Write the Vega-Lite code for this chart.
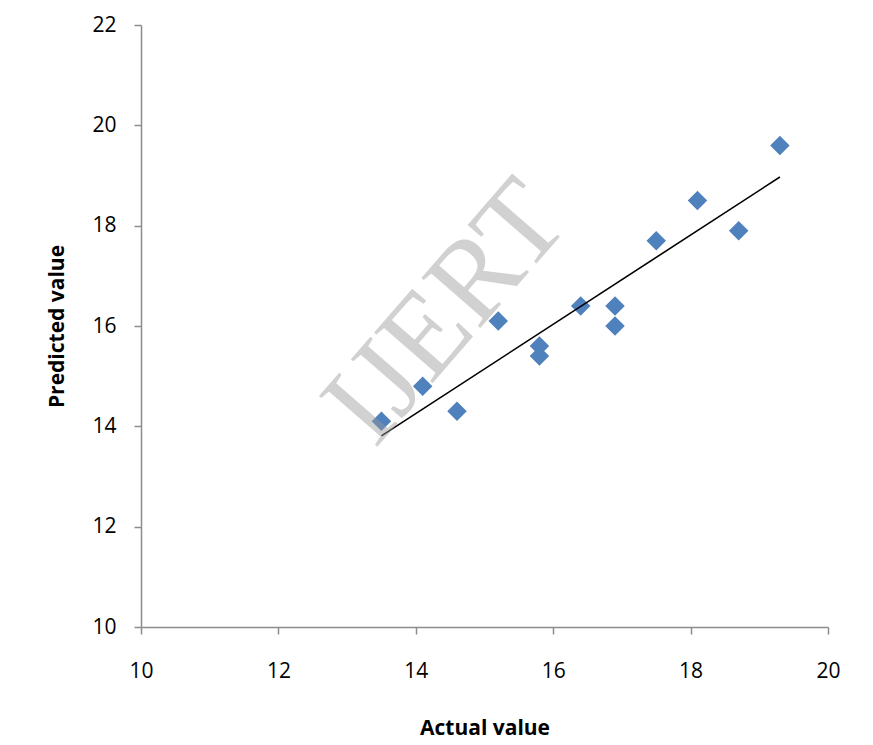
{
  "$schema": "https://vega.github.io/schema/vega-lite/v6.json",
  "width": 687,
  "height": 602,
  "autosize": {"type": "none"},
  "padding": {"left": 141, "top": 25, "right": 45, "bottom": 118},
  "background": "white",
  "config": {
    "view": {"stroke": null},
    "font": "Open Sans",
    "axis": {
      "grid": false,
      "labelFlush": false,
      "domainColor": "#8c8c8c",
      "domainWidth": 1.5,
      "tickColor": "#8c8c8c",
      "tickWidth": 1.5,
      "tickSize": 7,
      "labelFont": "Open Sans",
      "labelFontSize": 21,
      "labelColor": "#000000",
      "titleFont": "Open Sans",
      "titleFontSize": 21,
      "titleFontWeight": "bold",
      "titleColor": "#000000"
    }
  },
  "datasets": {
    "points": [
      {"actual": 13.5, "predicted": 14.1},
      {"actual": 14.1, "predicted": 14.8},
      {"actual": 14.6, "predicted": 14.3},
      {"actual": 15.2, "predicted": 16.1},
      {"actual": 15.8, "predicted": 15.6},
      {"actual": 15.8, "predicted": 15.4},
      {"actual": 16.4, "predicted": 16.4},
      {"actual": 16.9, "predicted": 16.4},
      {"actual": 16.9, "predicted": 16.0},
      {"actual": 17.5, "predicted": 17.7},
      {"actual": 18.1, "predicted": 18.5},
      {"actual": 18.7, "predicted": 17.9},
      {"actual": 19.3, "predicted": 19.6}
    ],
    "trend": [
      {"actual": 13.5, "predicted": 13.81},
      {"actual": 19.3, "predicted": 18.97}
    ],
    "mark": [
      {"actual": 14.45, "predicted": 16.25, "label": "IJERT"}
    ]
  },
  "layer": [
    {
      "data": {"name": "points"},
      "mark": {"type": "point", "shape": "diamond", "filled": true, "size": 380, "color": "#4F81BD", "opacity": 1},
      "encoding": {
        "x": {
          "field": "actual", "type": "quantitative",
          "scale": {"domain": [10, 20], "nice": false, "zero": false},
          "axis": {"values": [10, 12, 14, 16, 18, 20], "format": "d", "title": "Actual value", "labelPadding": 26, "titlePadding": 36}
        },
        "y": {
          "field": "predicted", "type": "quantitative",
          "scale": {"domain": [10, 22], "nice": false, "zero": false},
          "axis": {"values": [10, 12, 14, 16, 18, 20, 22], "format": "d", "title": "Predicted value", "labelPadding": 18, "titlePadding": 24}
        }
      }
    },
    {
      "data": {"name": "trend"},
      "mark": {"type": "line", "color": "#000000", "strokeWidth": 1.6},
      "encoding": {
        "x": {"field": "actual", "type": "quantitative"},
        "y": {"field": "predicted", "type": "quantitative"}
      }
    },
    {
      "data": {"name": "mark"},
      "mark": {"type": "text", "font": "Liberation Serif", "fontSize": 118, "angle": -49, "color": "#9a9a9a", "opacity": 0.45, "align": "center", "baseline": "middle"},
      "encoding": {
        "x": {"field": "actual", "type": "quantitative"},
        "y": {"field": "predicted", "type": "quantitative"},
        "text": {"field": "label"}
      }
    }
  ]
}
